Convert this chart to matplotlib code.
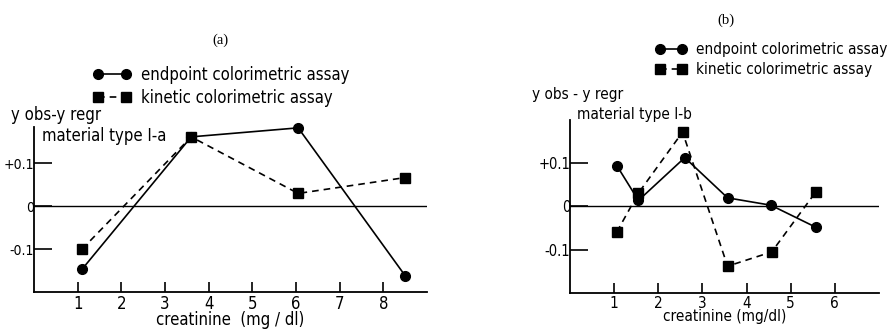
import matplotlib
matplotlib.use('Agg')
import matplotlib.pyplot as plt
import matplotlib.ticker as ticker

# panel (a) - material type I-a
a_endpoint_x = [1.1, 3.6, 6.05, 8.5]
a_endpoint_y = [-0.147, 0.162, 0.183, -0.162]
a_kinetic_x = [1.1, 3.6, 6.05, 8.5]
a_kinetic_y = [-0.100, 0.162, 0.030, 0.067]

# panel (b) - material type I-b
b_endpoint_x = [1.07, 1.55, 2.6, 3.57, 4.55, 5.57]
b_endpoint_y = [0.093, 0.014, 0.113, 0.020, 0.003, -0.048]
b_kinetic_x = [1.06, 1.55, 2.55, 3.57, 4.57, 5.57]
b_kinetic_y = [-0.059, 0.031, 0.172, -0.138, -0.105, 0.034]

y_ticks = [-0.1, 0, 0.1]
y_tick_labels = ['-0.1', '0', '+0.1']

plt.rcParams['font.family'] = 'DejaVu Sans'
plt.rcParams['font.stretch'] = 'condensed'

fig = plt.figure(figsize=(8.96, 3.29), dpi=100)
W, H = 896, 329


def px_axes(left, top, right, bottom):
    return fig.add_axes([left / W, 1 - bottom / H, (right - left) / W, (bottom - top) / H])


def style_axes(ax, xmax, ymax, xticks, fs, yfs):
    ax.set_xlim(0, xmax)
    ax.set_ylim(-0.2, ymax)
    for side in ('top', 'right'):
        ax.spines[side].set_visible(False)
    for side in ('left', 'bottom'):
        ax.spines[side].set_linewidth(1.3)
    ax.axhline(0, color='black', linewidth=1.0, zorder=1)
    ax.xaxis.set_major_locator(ticker.FixedLocator(xticks))
    ax.set_xticklabels([str(t) for t in xticks])
    ax.yaxis.set_major_locator(ticker.FixedLocator(y_ticks))
    ax.set_yticklabels(y_tick_labels)
    ax.tick_params(axis='x', direction='in', length=7, width=1.2, pad=2, labelsize=fs)
    ax.tick_params(axis='y', direction='in', length=13, width=1.2, pad=0, labelsize=yfs)


def draw(ax, ex, ey, kx, ky):
    l1, = ax.plot(ex, ey, color='black', linewidth=1.2, marker='o', markersize=7,
                  label='endpoint colorimetric assay', clip_on=False, zorder=3)
    l2, = ax.plot(kx, ky, color='black', linewidth=1.2, linestyle=(0, (4, 3)), marker='s',
                  markersize=6.5, label='kinetic colorimetric assay', clip_on=False, zorder=3)
    return l1, l2


def add_legend(handles, x, y, length_px, fs, spacing):
    fig.legend(handles=handles, loc='upper left', bbox_to_anchor=(x / W, 1 - y / H),
               frameon=False, numpoints=2, handlelength=length_px / (fs * 100 / 72),
               handletextpad=0.6, labelspacing=spacing, fontsize=fs,
               borderaxespad=0, borderpad=0)


# (a)
FA = 12
ax1 = px_axes(34, 127, 427, 292)
style_axes(ax1, 9, 0.185, list(range(1, 9)), FA, 10)
h1 = draw(ax1, a_endpoint_x, a_endpoint_y, a_kinetic_x, a_kinetic_y)
ax1.set_xlabel('creatinine  (mg / dl)', fontsize=FA, labelpad=-1)
add_legend(h1, 93, 66, 38, FA, 0.3)
fig.text(220 / W, 1 - 40 / H, '(a)', family='Liberation Serif', fontsize=10.5,
         ha='center', va='center')
fig.text(11 / W, 1 - 115 / H, 'y obs-y regr', fontsize=FA, ha='left', va='center')
fig.text(42 / W, 1 - 136 / H, 'material type I-a', fontsize=FA, ha='left', va='center')

# (b)
FB = 11
ax2 = px_axes(570, 120, 879, 293)
style_axes(ax2, 7, 0.2, list(range(1, 7)), FB, 10.5)
h2 = draw(ax2, b_endpoint_x, b_endpoint_y, b_kinetic_x, b_kinetic_y)
ax2.set_xlabel('creatinine (mg/dl)', fontsize=FB, labelpad=-1)
add_legend(h2, 655, 42, 32, FB, 0.35)
fig.text(726 / W, 1 - 20 / H, '(b)', family='Liberation Serif', fontsize=10.5,
         ha='center', va='center')
fig.text(532 / W, 1 - 94 / H, 'y obs - y regr', fontsize=FB, ha='left', va='center')
fig.text(577 / W, 1 - 114 / H, 'material type I-b', fontsize=FB, ha='left', va='center')

fig.savefig('out.png', dpi=100)
